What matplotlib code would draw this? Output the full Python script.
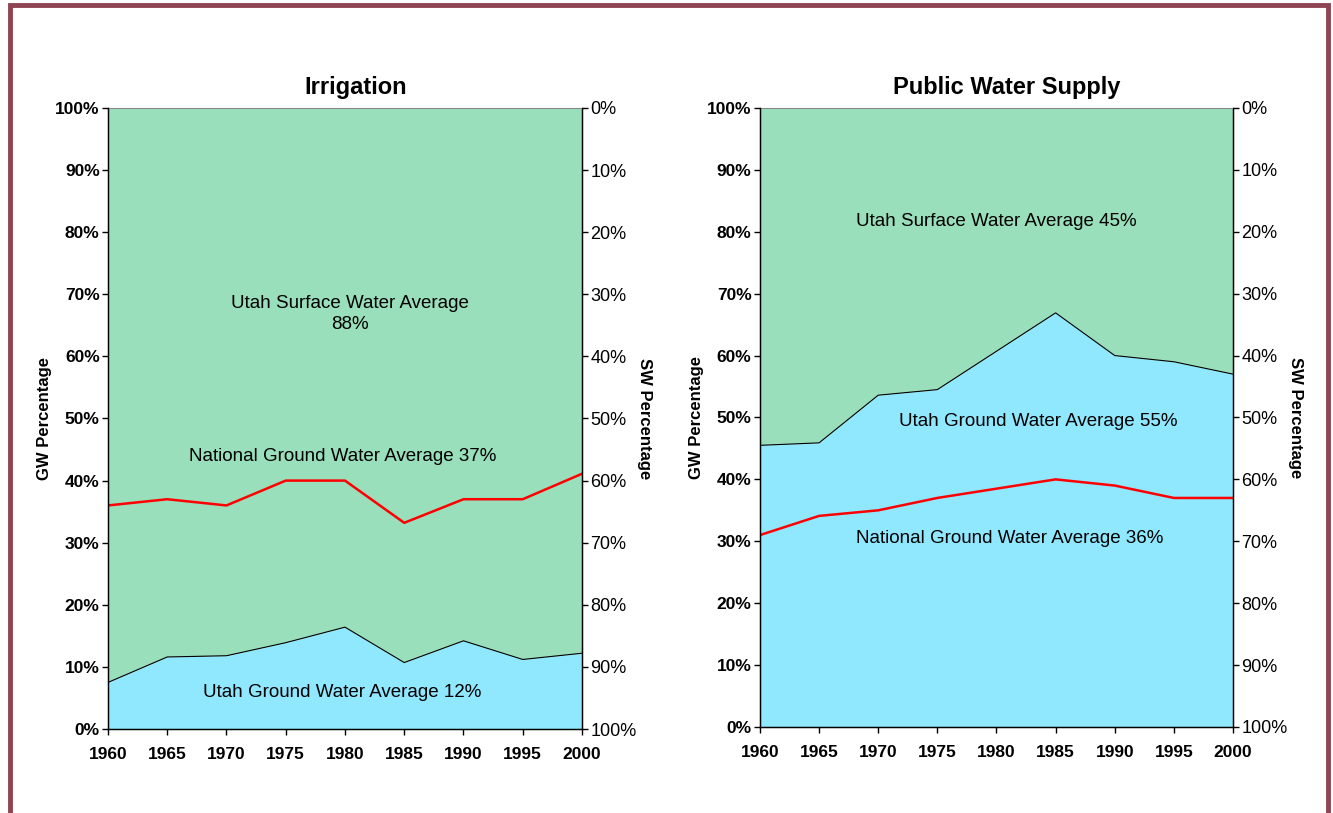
import numpy as np
import matplotlib.pyplot as plt
from matplotlib.patches import Rectangle

plt.rcParams['font.family'] = ['Liberation Sans', 'DejaVu Sans']

years = [1960, 1965, 1970, 1975, 1980, 1985, 1990, 1995, 2000]

# Irrigation: Utah ground water share and national ground water share (%)
irr_utah_gw = [7.5, 11.6, 11.8, 13.9, 16.4, 10.7, 14.2, 11.2, 12.2]
irr_nat_gw = [36, 37, 36, 40, 40, 33.2, 37, 37, 41.1]

# Public water supply
pws_years = [1960, 1965, 1970, 1975, 1985, 1990, 1995, 2000]
pws_utah_gw = [45.5, 45.9, 53.6, 54.5, 66.9, 60.0, 59.0, 57.0]
pws_nat_gw = [31, 34.1, 35, 37, 40, 39, 37, 37]

green = '#99DFBB'
blue = '#90E8FF'

fig = plt.figure(figsize=(13.33, 8.13), dpi=100)

# maroon frame around the page
fig.patches.append(Rectangle((0.0075, -0.05), 0.989, 1.044, transform=fig.transFigure,
                             fill=False, edgecolor='#8E4452', linewidth=3.5))


def panel(pos, title, gx, gy, nx, ny, labels):
    ax = fig.add_axes(pos)
    ax.fill_between(gx, gy, 100, color=green, linewidth=0)
    ax.fill_between(gx, 0, gy, color=blue, linewidth=0)
    ax.plot(gx, gy, color='black', linewidth=0.8)
    ax.plot(nx, ny, color='red', linewidth=1.8)
    ax.set_xlim(1960, 2000)
    ax.set_ylim(0, 100)
    ax.set_xticks(np.arange(1960, 2001, 5))
    ax.set_yticks(np.arange(0, 101, 10))
    ax.set_yticklabels([f'{v}%' for v in range(0, 101, 10)], fontweight='bold')
    ax.set_xticklabels([str(y) for y in range(1960, 2001, 5)], fontweight='bold')
    ax.tick_params(labelsize=12.5, direction='out', length=4, width=1)
    ax.tick_params(axis='x', pad=9)
    ax.tick_params(axis='y', pad=2)
    ax.set_ylabel('GW Percentage', fontsize=12, fontweight='bold', labelpad=2)
    ax.set_title(title, fontsize=17, fontweight='bold', pad=10, x=0.522)
    ax.spines['top'].set_color('#888888')
    for s in ['left', 'bottom', 'right']:
        ax.spines[s].set_linewidth(1)

    ax2 = ax.twinx()
    ax2.set_ylim(100, 0)
    ax2.set_yticks(np.arange(0, 101, 10))
    ax2.set_yticklabels([f'{v}%' for v in range(0, 101, 10)])
    ax2.tick_params(labelsize=13, direction='out', length=4, width=1, pad=2)
    ax2.set_ylabel('SW Percentage', fontsize=12, fontweight='bold', rotation=-90, labelpad=11)
    ax2.spines['top'].set_visible(False)

    for (x, y, t) in labels:
        ax.text(x, y, t, fontsize=13.5, ha='center', va='center', linespacing=1.3)
    return ax


panel([0.081, 0.1033, 0.3556, 0.7639], 'Irrigation', years, irr_utah_gw, years, irr_nat_gw,
      [(1980.4, 66.8, 'Utah Surface Water Average\n88%'),
       (1979.8, 43.8, 'National Ground Water Average 37%'),
       (1979.8, 5.8, 'Utah Ground Water Average 12%')])

panel([0.5701, 0.1058, 0.3549, 0.7614], 'Public Water Supply', pws_years, pws_utah_gw, pws_years, pws_nat_gw,
      [(1980.0, 81.7, 'Utah Surface Water Average 45%'),
       (1983.5, 49.4, 'Utah Ground Water Average 55%'),
       (1981.1, 30.4, 'National Ground Water Average 36%')])

fig.savefig('out.png', dpi=100)
